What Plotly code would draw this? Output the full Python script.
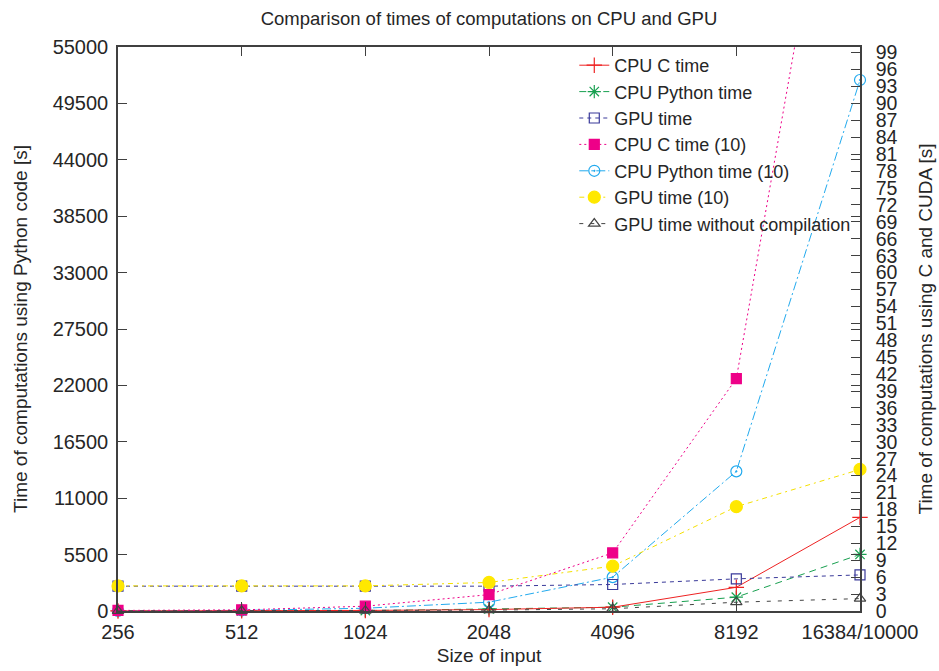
import plotly.graph_objects as go

sizes = ["256", "512", "1024", "2048", "4096", "8192", "16384/10000"]

# Right axis (C and CUDA, seconds)
cpu_c_time = [0.01, 0.03, 0.1, 0.25, 0.67, 4.2, 16.6]
gpu_time = [4.4, 4.4, 4.4, 4.4, 4.7, 5.7, 6.4]
cpu_c_time_10 = [0.1, 0.2, 0.85, 2.9, 10.3, 41.2, 166]
gpu_time_10 = [4.45, 4.45, 4.45, 5.06, 7.95, 18.5, 25.1]
gpu_time_nocomp = [0.02, 0.03, 0.05, 0.15, 0.4, 1.56, 2.2]

# Left axis (Python code, seconds)
cpu_py_time = [2, 10, 40, 200, 370, 1350, 5515]
cpu_py_time_10 = [15, 60, 270, 860, 3300, 13616, 51780]

left_ticks = [0, 5500, 11000, 16500, 22000, 27500, 33000, 38500, 44000, 49500, 55000]
right_ticks = list(range(0, 100, 3))

FONT = "Liberation Sans, Arial, Helvetica, sans-serif"
AX = "#404040"

fig = go.Figure()

def add(name, y, axis, color, dash, symbol, size, mcolor=None, mline=None):
    fig.add_trace(go.Scatter(
        x=sizes, y=y, name=name, yaxis=axis, mode="lines+markers",
        line=dict(color=color, width=1, dash=dash),
        marker=dict(symbol=symbol, size=size, color=mcolor or color,
                    line=dict(color=mline or color, width=1.2)),
        cliponaxis=False,
    ))

add("CPU C time", cpu_c_time, "y2", "#ee2222", "solid", "cross-thin", 11)
add("CPU Python time", cpu_py_time, "y", "#18a050", "7px,5px", "asterisk-open", 11)
add("GPU time", gpu_time, "y2", "#3a3a9a", "4px,4px", "square-open", 10)
add("CPU C time (10)", cpu_c_time_10, "y2", "#ee0088", "2px,3px", "square", 10)
add("CPU Python time (10)", cpu_py_time_10, "y", "#22aaee", "9px,3px,2px,3px", "circle-open-dot", 11)
add("GPU time (10)", gpu_time_10, "y2", "#f5e000", "5px,4px,2px,4px", "circle", 12, mcolor="#ffe800", mline="#ffe800")
add("GPU time without compilation", gpu_time_nocomp, "y2", "#444444", "4px,7px", "triangle-up-open", 10)

fig.update_layout(
    width=939, height=671,
    margin=dict(l=118, r=79, t=47, b=60),
    paper_bgcolor="white", plot_bgcolor="white",
    font=dict(family=FONT, size=19, color="#262626"),
    title=dict(text="Comparison of times of computations on CPU and GPU",
               x=0.5, xref="paper", xanchor="center", y=0.973, yanchor="middle",
               font=dict(size=18.5)),
    xaxis=dict(type="category", categoryorder="array", categoryarray=sizes,
               range=[0, 6], showgrid=False, zeroline=False, automargin=False,
               showline=True, linecolor=AX, linewidth=1.5, mirror="ticks",
               ticks="inside", ticklen=9, tickcolor=AX, tickfont=dict(size=20),
               ticklabelstandoff=2,
               title=dict(text="Size of input", standoff=7, font=dict(size=19))),
    yaxis=dict(range=[0, 55000], tickvals=left_ticks, tickformat="d",
               showgrid=False, zeroline=False, automargin=False,
               showline=True, linecolor=AX, linewidth=1.5, mirror="ticks",
               ticks="inside", ticklen=9, tickcolor=AX, tickfont=dict(size=20),
               ticklabelstandoff=4,
               title=dict(text="Time of computations using Python code [s]", standoff=20,
                          font=dict(size=19))),
    yaxis2=dict(range=[0, 100], tickvals=right_ticks, overlaying="y", side="right",
                showgrid=False, zeroline=False, showline=True, linecolor=AX, linewidth=1.5,
                automargin=False, ticks="inside", ticklen=9, tickcolor=AX,
                tickfont=dict(size=19.5), ticklabelstandoff=10,
                title=dict(text="Time of computations using C and CUDA [s]", standoff=22,
                           font=dict(size=19))),
    legend=dict(x=0.995, y=1.0, xanchor="right", yanchor="top",
                bgcolor="rgba(0,0,0,0)", font=dict(size=18), tracegroupgap=0),
    showlegend=True,
)

fig.write_html(
    "out.html",
    config={"displayModeBar": False},
    post_script="document.body.style.margin='0';document.body.style.overflow='hidden';",
)
